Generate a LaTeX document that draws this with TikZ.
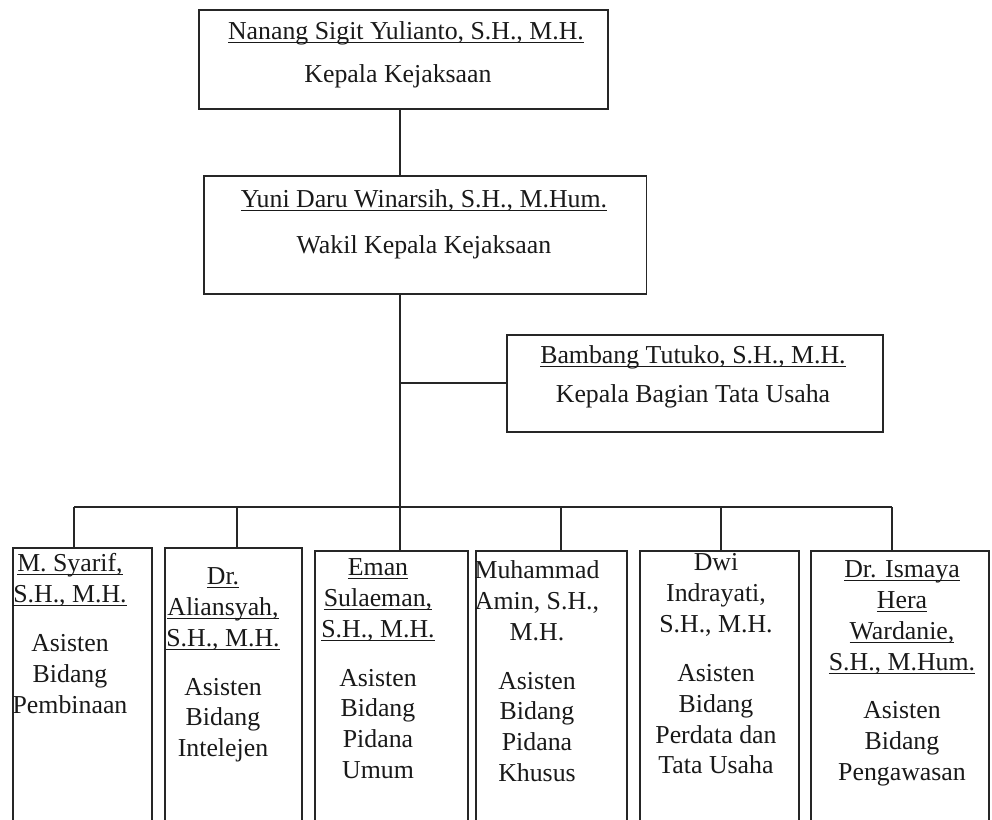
\documentclass[tikz,border=0pt]{standalone}
\usepackage{fontspec}
\setmainfont{Liberation Serif}

\newcommand{\nm}[1]{\underline{\raisebox{0pt}[\height][0pt]{#1}}}

\begin{document}
\begin{tikzpicture}[x=0.02cm, y=-0.02cm, line width=0.9pt,
    box/.style={draw=black!85, anchor=north west, inner sep=0pt},
    lbl/.style={font=\fontsize{14.7}{17.6}\selectfont, inner sep=0pt, text=black!90},
    col/.style={lbl, align=center, anchor=north}]

\useasboundingbox (0,0) rectangle (992,820);
\clip (0,0) rectangle (992,820);

% Kepala Kejaksaan
\node[box, minimum width=8.18cm, minimum height=1.98cm] (kepala) at (198,9) {};
\node[lbl, anchor=base] (kepalaName) at (406,40) {\nm{Nanang Sigit Yulianto, S.H., M.H.}};
\node[lbl, anchor=base] (kepalaTitle) at (398,83) {Kepala Kejaksaan};

% Wakil Kepala Kejaksaan
\node[box, minimum width=8.86cm, minimum height=2.36cm] (wakil) at (203,175) {};
\node[lbl, anchor=base] (wakilName) at (424,208) {\nm{Yuni Daru Winarsih, S.H., M.Hum.}};
\node[lbl, anchor=base] (wakilTitle) at (424,254) {Wakil Kepala Kejaksaan};

% Kepala Bagian Tata Usaha
\node[box, minimum width=7.52cm, minimum height=1.94cm] (tu) at (506,334) {};
\node[lbl, anchor=base] (tuName) at (693,364) {\nm{Bambang Tutuko, S.H., M.H.}};
\node[lbl, anchor=base] (tuTitle) at (693,403) {Kepala Bagian Tata Usaha};

% Asisten boxes (open at the bottom edge)
\node[box, minimum width=2.78cm, minimum height=5.7cm] (b1) at (12,547) {};
\node[box, minimum width=2.74cm, minimum height=5.7cm] (b2) at (164,547) {};
\node[box, minimum width=3.06cm, minimum height=5.7cm] (b3) at (314,550) {};
\node[box, minimum width=3.02cm, minimum height=5.7cm] (b4) at (475,550) {};
\node[box, minimum width=3.18cm, minimum height=5.7cm] (b5) at (639,550) {};
\node[box, minimum width=3.56cm, minimum height=5.7cm] (b6) at (810,550) {};

\node[col] (t1) at (70,553) {\nm{M. Syarif,}\\ \nm{S.H., M.H.}\\[10pt] Asisten\\ Bidang\\ Pembinaan};
\node[col] (t2) at (223,567) {\nm{Dr.}\\ \nm{Aliansyah,}\\ \nm{S.H., M.H.}\\[10pt] Asisten\\ Bidang\\ Intelejen};
\node[col] (t3) at (378,558) {\nm{Eman}\\ \nm{Sulaeman,}\\ \nm{S.H., M.H.}\\[10pt] Asisten\\ Bidang\\ Pidana\\ Umum};
\node[col] (t4) at (537,560) {Muhammad\\ Amin, S.H.,\\ M.H.\\[10pt] Asisten\\ Bidang\\ Pidana\\ Khusus};
\node[col] (t5) at (716,553) {Dwi\\ Indrayati,\\ S.H., M.H.\\[10pt] Asisten\\ Bidang\\ Perdata dan\\ Tata Usaha};
\node[col] (t6) at (902,560) {\nm{Dr. Ismaya}\\ \nm{Hera}\\ \nm{Wardanie,}\\ \nm{S.H., M.Hum.}\\[10pt] Asisten\\ Bidang\\ Pengawasan};

% Connectors
\coordinate (bus) at (400,507);
\coordinate (busL) at (74,507);
\coordinate (busR) at (892,507);

\begin{scope}[draw=black!85]
\draw (kepala.south -| bus) -- (wakil.north -| bus);
\draw (wakil.south -| bus) -- (bus);
\draw (bus |- tu.west) -- (tu.west);
\draw (busL) -- (busR);
\foreach \x/\b in {74/b1,237/b2,400/b3,561/b4,721/b5,892/b6}
    \draw (\x,0 |- bus) -- (\x,0 |- \b.north);
\end{scope}

\end{tikzpicture}
\end{document}
